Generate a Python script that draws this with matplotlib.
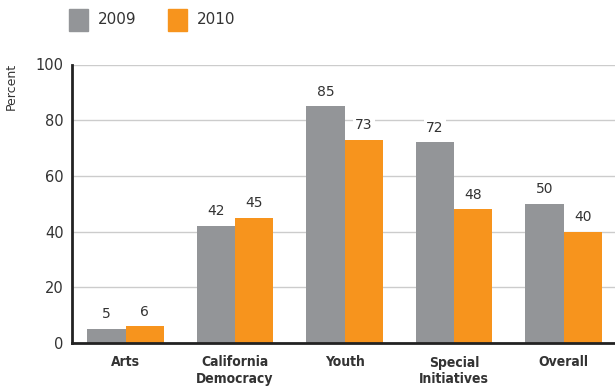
import matplotlib
matplotlib.use("Agg")
import matplotlib.pyplot as plt
import numpy as np
from matplotlib.patches import Rectangle
from matplotlib import font_manager as fm

categories = ["Arts", "California\nDemocracy", "Youth", "Special\nInitiatives", "Overall"]
v2009 = [5, 42, 85, 72, 50]
v2010 = [6, 45, 73, 48, 40]
yticks = [0, 20, 40, 60, 80, 100]

gray = "#939598"
orange = "#F7941D"
txt = "#333333"

def is_bold(f):
    w = f.weight
    if isinstance(w, str):
        return w in ("bold", "heavy", "extra bold", "black", "semibold", "demibold")
    return w >= 600

cands = [f for f in fm.fontManager.ttflist
         if is_bold(f) and ("Narrow" in f.name or "ondensed" in f.fname or "Narrow" in f.fname)
         and "Oblique" not in f.fname and "Italic" not in f.fname]
pref = [f for f in cands if "Liberation" in f.name] + [f for f in cands if "DejaVu" in f.name] + cands
xprop = fm.FontProperties(fname=pref[0].fname, size=10) if pref else \
    fm.FontProperties(family="DejaVu Sans", weight="bold", size=9)

plt.rcParams['font.family'] = ['DejaVu Sans']
fig = plt.figure(figsize=(6.15, 3.87), dpi=100)
ax = fig.add_axes([72/615, 1-343/387, 1-72/615, (343-64.5)/387])

x = np.arange(len(categories))
w = 0.35
b1 = ax.bar(x - w/2, v2009, w, color=gray, zorder=3)
b2 = ax.bar(x + w/2, v2010, w, color=orange, zorder=3)

for bars, vals in ((b1, v2009), (b2, v2010)):
    for r, v in zip(bars, vals):
        ax.annotate(str(v), (r.get_x() + r.get_width()/2, v), xytext=(0, 5.5),
                    textcoords="offset points", ha="center", va="bottom",
                    fontsize=10, color=txt, zorder=5,
                    bbox=dict(facecolor="white", edgecolor="none", pad=1.5))

ax.set_xlim(-0.49, 4.47)
ax.set_ylim(0, 100)
ax.set_yticks(yticks)
ax.set_yticklabels([str(t) for t in yticks], fontsize=10.5, color=txt)
ax.set_xticks(x)
ax.set_xticklabels(categories, color=txt, fontproperties=xprop)
ax.tick_params(axis="y", length=0, pad=6)
ax.tick_params(axis="x", length=0, pad=9)
ax.grid(axis="y", color="#cccccc", linewidth=1, zorder=0)
for s in ("top", "right"):
    ax.spines[s].set_visible(False)
for s in ("left", "bottom"):
    ax.spines[s].set_linewidth(2)
    ax.spines[s].set_color("#222222")
    ax.spines[s].set_zorder(4)
ax.set_ylabel("Percent", fontsize=9, color=txt)
ax.yaxis.set_label_coords(-0.0995, 0.92)

# legend
fig.patches.append(Rectangle((69/615, 1-31/387), 19/615, 22/387, transform=fig.transFigure, color=gray))
fig.text(98/615, 1-20/387, "2009", fontsize=11, color=txt, va="center", ha="left")
fig.patches.append(Rectangle((168/615, 1-31/387), 19/615, 22/387, transform=fig.transFigure, color=orange))
fig.text(197/615, 1-20/387, "2010", fontsize=11, color=txt, va="center", ha="left")

fig.savefig("out.png", dpi=100)
